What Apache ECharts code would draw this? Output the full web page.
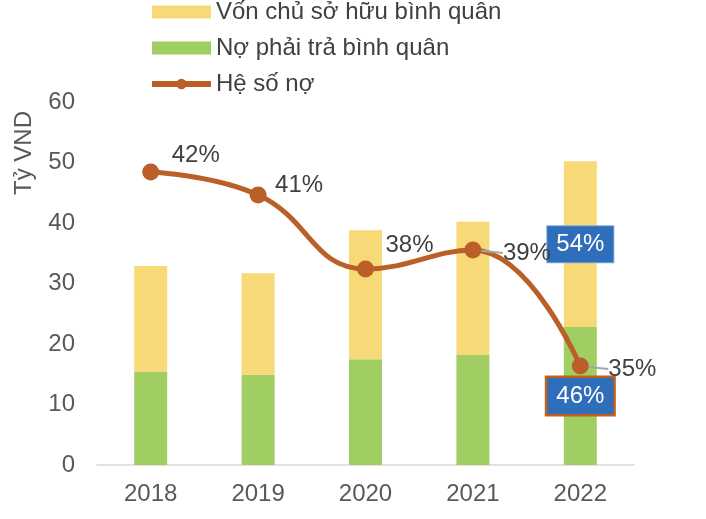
<!DOCTYPE html>
<html>
<head>
<meta charset="utf-8">
<script src="https://cdn.jsdelivr.net/npm/echarts@6/dist/echarts.min.js"></script>
<style>html,body{margin:0;padding:0;background:#fff;}#c{width:706px;height:519px;}</style>
</head>
<body>
<div id="c"></div>
<script>
const years = ['2018', '2019', '2020', '2021', '2022'];
const debt = [15.4, 14.9, 17.5, 18.2, 22.8];
const equity = [17.5, 16.8, 21.3, 22.0, 27.4];
const debtRatio = [42.36, 41.44, 38.48, 39.24, 34.6];
const debtRatioLabels = ['42%', '41%', '38%', '39%', '35%'];
const debtShareLabels = ['', '', '', '', '46%'];
const equityShareLabels = ['', '', '', '', '54%'];
const yTicks = [0, 10, 20, 30, 40, 50, 60];

const FONT = 'Liberation Sans, Arial, sans-serif';
const FS = 24;
const labelOffsets = [[45, -17], [41, -10], [44, -24], [54, 3], [52, 3]];
const showGuide = [false, false, false, true, true];

const boxLabel = (txt, border, bw) => ({
  show: !!txt, position: 'inside', formatter: () => txt,
  color: '#fff', fontSize: FS, fontFamily: FONT,
  backgroundColor: '#2F6EBA', padding: [7, 9, 5, 9],
  borderColor: border, borderWidth: bw
});

const chart = echarts.init(document.getElementById('c'));
chart.setOption({
  animation: false,
  textStyle: { fontFamily: FONT },
  grid: { left: 97, right: 72, top: 102, bottom: 54, containLabel: false },
  legend: {
    orient: 'vertical', left: 149, top: 0, padding: 0,
    itemWidth: 59, itemHeight: 13, itemGap: 12,
    textStyle: { fontSize: FS, color: '#404040', fontFamily: FONT },
    data: [
      { name: 'Vốn chủ sở hữu bình quân', icon: 'rect' },
      { name: 'Nợ phải trả bình quân', icon: 'rect' },
      { name: 'Hệ số nợ', lineStyle: { width: 6, color: '#BA5F27' } }
    ]
  },
  graphic: [{
    type: 'text', x: 24, y: 153, rotation: Math.PI / 2,
    style: { text: 'Tỷ VND', font: '24px ' + FONT, fill: '#595959', textAlign: 'center', textVerticalAlign: 'middle' }
  }],
  xAxis: {
    type: 'category', data: years,
    axisLine: { lineStyle: { color: '#D9D9D9', width: 1.5 } },
    axisTick: { show: false },
    axisLabel: { color: '#595959', fontSize: FS, margin: 17, fontFamily: FONT }
  },
  yAxis: [{
    type: 'value', min: yTicks[0], max: yTicks[yTicks.length - 1], interval: 10,
    axisLine: { show: false }, axisTick: { show: false }, splitLine: { show: false },
    axisLabel: { color: '#595959', fontSize: FS, margin: 22, fontFamily: FONT }
  }, {
    type: 'value', min: 30.64, max: 45.16, show: false, splitLine: { show: false }
  }],
  series: [{
    name: 'Nợ phải trả bình quân', type: 'bar', stack: 'a', barWidth: 33,
    itemStyle: { color: '#A0CE63' },
    data: debt.map((v, i) => ({ value: v, label: boxLabel(debtShareLabels[i], '#C0601F', 2.5) }))
  }, {
    name: 'Vốn chủ sở hữu bình quân', type: 'bar', stack: 'a', barWidth: 33,
    itemStyle: { color: '#F8D978' },
    data: equity.map((v, i) => ({ value: v, label: boxLabel(equityShareLabels[i], '#7FA8DC', 1) }))
  }, {
    name: 'Hệ số nợ', type: 'line', yAxisIndex: 1, smooth: 0.45,
    symbol: 'circle', symbolSize: 17,
    lineStyle: { color: '#BA5F27', width: 5 },
    itemStyle: { color: '#BA5F27' },
    label: {
      show: true, position: 'inside', color: '#404040', fontSize: FS, fontFamily: FONT,
      formatter: p => debtRatioLabels[p.dataIndex]
    },
    labelLayout: p => ({ dx: labelOffsets[p.dataIndex][0], dy: labelOffsets[p.dataIndex][1] }),
    data: debtRatio.map((v, i) => ({
      value: v,
      labelLine: { show: showGuide[i], lineStyle: { color: '#A6A6A6', width: 2 } }
    })),
    z: 5
  }]
});
</script>
</body>
</html>
